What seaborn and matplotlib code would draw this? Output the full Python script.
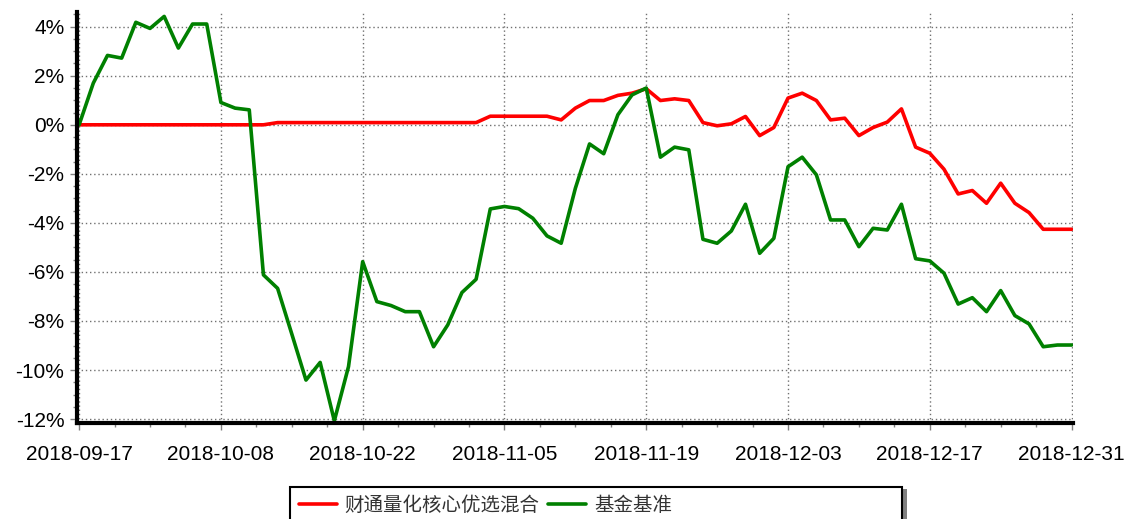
import numpy as np
import pandas as pd
import matplotlib
matplotlib.use("Agg")
import matplotlib.pyplot as plt
from matplotlib.ticker import MultipleLocator, FuncFormatter
from matplotlib.patches import Rectangle
import seaborn as sns

dates = (
    ["2018-09-17", "2018-09-18", "2018-09-19", "2018-09-20", "2018-09-21",
     "2018-09-25", "2018-09-26", "2018-09-27", "2018-09-28", "2018-09-30"]
    + ["2018-10-%02d" % d for d in [8, 9, 10, 11, 12, 15, 16, 17, 18, 19, 22, 23, 24, 25, 26, 29, 30, 31]]
    + ["2018-11-%02d" % d for d in [1, 2, 5, 6, 7, 8, 9, 12, 13, 14, 15, 16, 19, 20, 21, 22, 23, 26, 27, 28, 29, 30]]
    + ["2018-12-%02d" % d for d in [3, 4, 5, 6, 7, 10, 11, 12, 13, 14, 17, 18, 19, 20, 21, 24, 25, 26, 27, 28, 31]]
)

fund_name = "财通量化核心优选混合"
bench_name = "基金基准"

fund = [0.0, 0.0, 0.0, 0.0, 0.0, 0.0, 0.0, 0.0, 0.0, 0.0,
        0.0, 0.0, 0.0, 0.0, 0.09, 0.09, 0.09, 0.09, 0.09, 0.09,
        0.09, 0.09, 0.09, 0.09, 0.09, 0.09, 0.09, 0.09, 0.09, 0.35,
        0.35, 0.35, 0.35, 0.35, 0.20, 0.68, 0.99, 0.99, 1.20, 1.29,
        1.47, 0.99, 1.06, 0.99, 0.09, -0.04, 0.04, 0.34, -0.44, -0.11,
        1.09, 1.29, 0.99, 0.20, 0.27, -0.44, -0.11, 0.11, 0.65, -0.91,
        -1.16, -1.81, -2.82, -2.68, -3.20, -2.38, -3.20, -3.58, -4.26, -4.26,
        -4.26]

bench = [0.0, 1.70, 2.83, 2.72, 4.18, 3.93, 4.42, 3.13, 4.11, 4.11,
         0.91, 0.68, 0.61, -6.12, -6.67, -8.53, -10.41, -9.69, -12.07, -9.86,
         -5.58, -7.21, -7.37, -7.62, -7.62, -9.05, -8.16, -6.84, -6.30, -3.43,
         -3.33, -3.42, -3.81, -4.53, -4.83, -2.59, -0.78, -1.18, 0.41, 1.22,
         1.50, -1.32, -0.91, -1.02, -4.67, -4.83, -4.33, -3.24, -5.24, -4.63,
         -1.71, -1.32, -2.04, -3.88, -3.88, -4.97, -4.22, -4.29, -3.24, -5.46,
         -5.55, -6.05, -7.31, -7.05, -7.62, -6.76, -7.78, -8.12, -9.05, -8.98,
         -8.98]

yticks = [4, 2, 0, -2, -4, -6, -8, -10, -12]
xtick_step = 10

idx = np.arange(len(dates))
df = pd.DataFrame({
    "i": np.concatenate([idx, idx]),
    "v": fund + bench,
    "s": [fund_name] * len(dates) + [bench_name] * len(dates),
})

sns.set_style("white")
plt.rcParams["font.family"] = ["Liberation Sans", "Noto Sans CJK SC", "DejaVu Sans"]

fig = plt.figure(figsize=(11.24, 5.19), dpi=100)
ax = fig.add_axes([77 / 1124, 1 - 423 / 519, (1073 - 77) / 1124, (423 - 12) / 519])

sns.lineplot(data=df, x="i", y="v", hue="s", hue_order=[fund_name, bench_name],
             palette=["#ff0000", "#008000"], linewidth=2.6, ax=ax, legend=True)
handles, labels = ax.get_legend_handles_labels()
ax.get_legend().remove()

ax.set_xlim(-0.15, 70.1)
ax.set_ylim(-12.16, 4.6)

ax.set_xticks(idx[::xtick_step])
ax.set_xticklabels([dates[i] for i in idx[::xtick_step]])
ax.xaxis.set_minor_locator(MultipleLocator(2.5))
ax.set_yticks(yticks)
ax.yaxis.set_major_formatter(FuncFormatter(lambda v, p: "%d%%" % v))
ax.yaxis.set_minor_locator(MultipleLocator(0.5))
ax.set_xlabel("")
ax.set_ylabel("")

ax.grid(True, which="major", color="#707070", linestyle=(0, (1, 2)), linewidth=1.0)
for s in ["top", "right"]:
    ax.spines[s].set_visible(False)
for s in ["left", "bottom"]:
    ax.spines[s].set_color("black")
    ax.spines[s].set_linewidth(3)

ax.tick_params(axis="both", which="major", direction="out", length=5, width=1,
               color="#808080", labelsize=15, labelcolor="black")
ax.tick_params(axis="both", which="minor", direction="out", length=3, width=1,
               color="#808080")
ax.tick_params(axis="x", which="major", pad=11)
ax.tick_params(axis="y", which="major", pad=4)
ax.tick_params(axis="both", which="both", left=True, bottom=True)

# legend frame with shadow
fig.patches.append(Rectangle((903 / 1124, -0.05), 4 / 1124, 1 - 489 / 519 + 0.05,
                             transform=fig.transFigure, facecolor="#808080",
                             edgecolor="none", zorder=1))
fig.patches.append(Rectangle((290 / 1124, -0.05), (902 - 290) / 1124, 1 - 487 / 519 + 0.05,
                             transform=fig.transFigure, facecolor="white",
                             edgecolor="black", linewidth=1.5, zorder=2))
leg = fig.legend(handles, labels, loc="upper left", bbox_to_anchor=(293 / 1124, 1 - 489 / 519),
                 ncol=2, frameon=False, handlelength=1.95, handletextpad=0.4,
                 columnspacing=0.45, borderaxespad=0, borderpad=0.3,
                 prop={"family": ["Noto Sans CJK SC"], "size": 14})
for t in leg.get_texts():
    t.set_color("#333333")
leg.set_zorder(3)

fig.savefig("out.png", dpi=100)
